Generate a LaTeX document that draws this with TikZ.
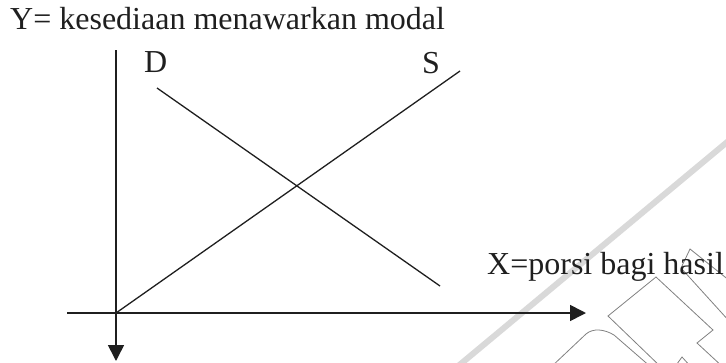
\documentclass[tikz,border=0pt]{standalone}
\usepackage{fontspec}
\setmainfont{Liberation Serif}
\usetikzlibrary{arrows.meta}
\begin{document}
\begin{tikzpicture}[x=1pt,y=-1pt,
  lbl/.style={inner sep=0pt, anchor=base west, font=\fontsize{32}{36}\selectfont, text=black!88},
  axis/.style={line width=1.6pt, draw=black!88, -{Triangle[length=16pt,width=16pt]}},
  curveline/.style={line width=1.3pt, draw=black!88},
  wmband/.style={line width=6pt, draw=black!15},
  wmlogo/.style={line width=0.8pt, draw=black!50}]
\useasboundingbox (0,0) rectangle (726,362);
% watermark
\draw[wmband] (457,367) -- (732,138);
\draw[wmlogo] (662,368) -- (608,316) -- (656,277) -- (713,330) -- (697,343) -- (724,368);
\draw[wmlogo] (730,281) -- (690,249) -- (681,268) -- (730,322);
\draw[wmlogo] (550,368) -- (586,334) .. controls (593,328) and (604,329) .. (614,335) -- (652,368);
\draw[wmlogo] (674,368) -- (682,357) -- (692,368);
% axes
\coordinate (ytop) at (116,50);
\coordinate (ybot) at (116,361);
\coordinate (xleft) at (67,313);
\coordinate (xright) at (586,313);
\draw[axis] (ytop) -- (ybot);
\draw[axis] (xleft) -- (xright);
% curves
\coordinate (O) at (116,313);
\coordinate (Send) at (460,71);
\coordinate (Dstart) at (157,88);
\coordinate (Dend) at (440,286);
\draw[curveline] (O) -- (Send);
\draw[curveline] (Dstart) -- (Dend);
% labels
\node[lbl] (title) at (10,29) {Y= kesediaan menawarkan modal};
\node[lbl] (dlabel) at (144,72) {D};
\node[lbl] (slabel) at (422,73) {S};
\node[lbl] (xlabel) at (487,274) {X=porsi bagi hasil};
\end{tikzpicture}
\end{document}
